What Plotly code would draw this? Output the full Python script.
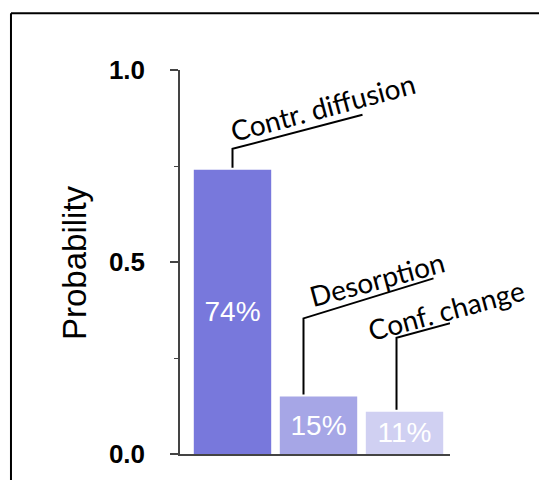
import plotly.graph_objects as go

# ---- data ----
categories = ["Contr. diffusion", "Desorption", "Conf. change"]
probabilities = [0.74, 0.15, 0.11]
bar_labels = ["74%", "15%", "11%"]
ytick_vals = [0, 0.5, 1.0]
ytick_text = ["0.0", "0.5", "1.0"]
y_title = "Probability"

# ---- styling / layout constants ----
bar_colors = ["#7878DC", "#A6A6E6", "#D0D0F2"]
# leader geometry in pixels relative to bar top centre: (x_off, vertical_rise, diag_dx, diag_dy)
leader_geom = [(0, 21, 130, 34), (-15, 78, 130, 40), (-8, 74, 129, 35)]
# label centre offsets in pixels relative to bar top centre
label_shift = [(90, 63), (58, 117), (41, 102)]

fig = go.Figure()
fig.add_trace(go.Bar(
    x=categories,
    y=probabilities,
    width=0.9,
    marker=dict(color=bar_colors, line=dict(width=0)),
    text=bar_labels,
    textposition="inside",
    insidetextanchor="middle",
    textangle=0,
    constraintext="none",
    textfont=dict(family="Liberation Sans, Arial", size=28, color="white"),
    hoverinfo="skip",
))

shapes = []
annotations = []
for i, (cat, val) in enumerate(zip(categories, probabilities)):
    xo, rise, ddx, ddy = leader_geom[i]
    shapes.append(dict(
        type="path", xref="x", yref="y",
        xsizemode="pixel", ysizemode="pixel",
        xanchor=cat, yanchor=val,
        path=f"M{xo},2 L{xo},{rise} L{xo + ddx},{rise + ddy}",
        line=dict(color="black", width=2),
    ))
    sx, sy = label_shift[i]
    annotations.append(dict(
        x=cat, y=val, xref="x", yref="y",
        xshift=sx, yshift=sy,
        text=cat, showarrow=False, textangle=-15,
        xanchor="center", yanchor="middle",
        font=dict(family="Lato, Open Sans, sans-serif", size=28, color="black"),
    ))

# y-axis title
annotations.append(dict(
    x=-0.3926, y=0.5, xref="paper", yref="paper",
    text=y_title, showarrow=False, textangle=-90,
    xanchor="center", yanchor="middle",
    font=dict(family="Liberation Sans, Arial", size=33, color="black"),
))

# outer frame (partially cropped)
shapes.append(dict(type="line", xref="paper", yref="paper",
                   x0=-0.626, x1=1.6, y0=1.148, y1=1.148,
                   line=dict(color="black", width=2)))
shapes.append(dict(type="line", xref="paper", yref="paper",
                   x0=-0.626, x1=-0.626, y0=1.148, y1=-0.2,
                   line=dict(color="black", width=2)))

# page body has an 8px margin, so the figure is 8px smaller than the window
fig.update_layout(
    width=539, height=472,
    margin=dict(l=172, r=97, t=62, b=26, pad=0),
    paper_bgcolor="white", plot_bgcolor="white",
    showlegend=False,
    bargap=0.1,
    shapes=shapes,
    annotations=annotations,
    xaxis=dict(
        type="category",
        range=[-0.6105, 2.529],
        showline=True, linecolor="#444", linewidth=1.5,
        showticklabels=False, ticks="", showgrid=False, zeroline=False,
        fixedrange=True,
    ),
    yaxis=dict(
        range=[0, 1],
        tickvals=ytick_vals, ticktext=ytick_text,
        ticks="outside", ticklen=8, tickwidth=1.5, tickcolor="#444",
        minor=dict(dtick=0.25, ticks="outside", ticklen=4, tickwidth=1, tickcolor="#444"),
        showline=True, linecolor="#444", linewidth=1.5,
        showgrid=False, zeroline=False,
        ticklabelstandoff=20,
        tickfont=dict(family="Liberation Sans, Arial", size=26, color="black", weight="bold"),
        fixedrange=True,
    ),
)

fig.write_html("out.html")
